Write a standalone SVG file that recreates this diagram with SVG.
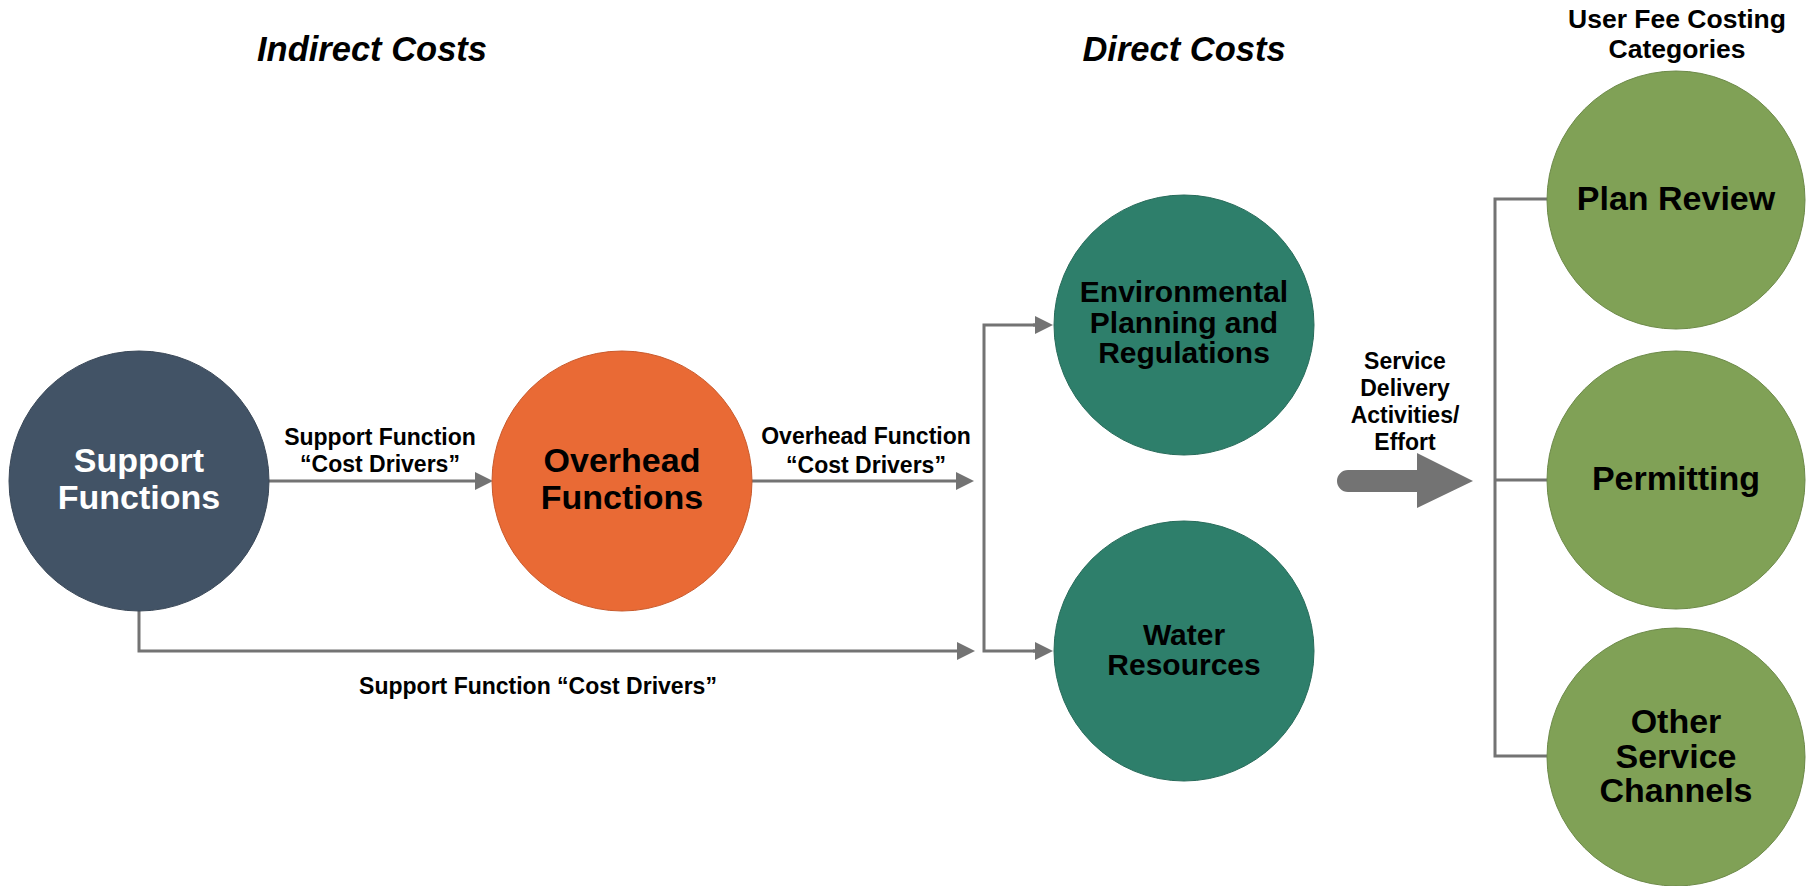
<svg xmlns="http://www.w3.org/2000/svg" width="1810" height="886" viewBox="0 0 1810 886">
  <style>
    text { font-family: "Liberation Sans", Arial, sans-serif; font-weight: bold; text-anchor: middle; fill: #000; }
    .title { font-size: 34.5px; font-style: italic; }
    .cat { font-size: 26.5px; }
    .lbl { font-size: 23px; }
    .big { font-size: 34px; }
    .mid { font-size: 30px; }
    .wire { fill: none; stroke: #737373; stroke-width: 3; }
    .support { fill: #425366; stroke: #3a4858; stroke-width: 1; }
    .overhead { fill: #E96A35; stroke: #c95a2c; stroke-width: 1; }
    .direct { fill: #2E7F6B; stroke: #276b5a; stroke-width: 1; }
    .fee { fill: #80A156; stroke: #6d8a49; stroke-width: 1; }
  </style>
  <defs>
    <marker id="head" markerUnits="userSpaceOnUse" viewBox="0 0 18 18" refX="8" refY="9" markerWidth="18" markerHeight="18" orient="auto">
      <path d="M0,0 L18,9 L0,18 Z" fill="#737373"/>
    </marker>
  </defs>
  <rect width="1810" height="886" fill="#fff"/>

  <!-- section headings -->
  <text class="title" x="372" y="61">Indirect Costs</text>
  <text class="title" x="1184" y="61">Direct Costs</text>
  <text class="cat" x="1677" y="28">User Fee Costing</text>
  <text class="cat" x="1677" y="58">Categories</text>

  <!-- connectors -->
  <g id="connectors">
    <path class="wire" d="M268,481 H483" marker-end="url(#head)"/>
    <path class="wire" d="M752,481 H964" marker-end="url(#head)"/>
    <path class="wire" d="M139,611 V651 H965" marker-end="url(#head)"/>
    <path class="wire" d="M1043,325 H984 V651 H1043"/>
    <path class="wire" d="M1033,325 H1043" marker-end="url(#head)"/>
    <path class="wire" d="M1033,651 H1043" marker-end="url(#head)"/>
    <path class="wire" d="M1547,199 H1495 V756 H1547 M1495,480 H1547"/>
    <!-- service delivery block arrow -->
    <path d="M1348,470 H1417 V453 L1473,481 L1417,508 V492 H1348 A11,11 0 0 1 1348,470 Z" fill="#737373"/>
    <text class="lbl" x="380" y="445">Support Function</text>
    <text class="lbl" x="380" y="472">“Cost Drivers”</text>
    <text class="lbl" x="866" y="444">Overhead Function</text>
    <text class="lbl" x="866" y="473">“Cost Drivers”</text>
    <text class="lbl" x="538" y="694">Support Function “Cost Drivers”</text>
    <text class="lbl" x="1405" y="369">Service</text>
    <text class="lbl" x="1405" y="396">Delivery</text>
    <text class="lbl" x="1405" y="423">Activities/</text>
    <text class="lbl" x="1405" y="450">Effort</text>
  </g>

  <g id="support-functions">
    <circle class="support" cx="139" cy="481" r="130"/>
    <text class="big" x="139" y="472" style="fill:#fff">Support</text>
    <text class="big" x="139" y="509" style="fill:#fff">Functions</text>
  </g>

  <g id="overhead-functions">
    <circle class="overhead" cx="622" cy="481" r="130"/>
    <text class="big" x="622" y="472">Overhead</text>
    <text class="big" x="622" y="509">Functions</text>
  </g>

  <g id="environmental-planning">
    <circle class="direct" cx="1184" cy="325" r="130"/>
    <text class="mid" x="1184" y="302">Environmental</text>
    <text class="mid" x="1184" y="333">Planning and</text>
    <text class="mid" x="1184" y="363">Regulations</text>
  </g>

  <g id="water-resources">
    <circle class="direct" cx="1184" cy="651" r="130"/>
    <text class="mid" x="1184" y="645">Water</text>
    <text class="mid" x="1184" y="675">Resources</text>
  </g>

  <g id="plan-review">
    <circle class="fee" cx="1676" cy="200" r="129"/>
    <text class="big" x="1676" y="210">Plan Review</text>
  </g>

  <g id="permitting">
    <circle class="fee" cx="1676" cy="480" r="129"/>
    <text class="big" x="1676" y="490">Permitting</text>
  </g>

  <g id="other-service-channels">
    <circle class="fee" cx="1676" cy="757" r="129"/>
    <text class="big" x="1676" y="733">Other</text>
    <text class="big" x="1676" y="768">Service</text>
    <text class="big" x="1676" y="802">Channels</text>
  </g>
</svg>
